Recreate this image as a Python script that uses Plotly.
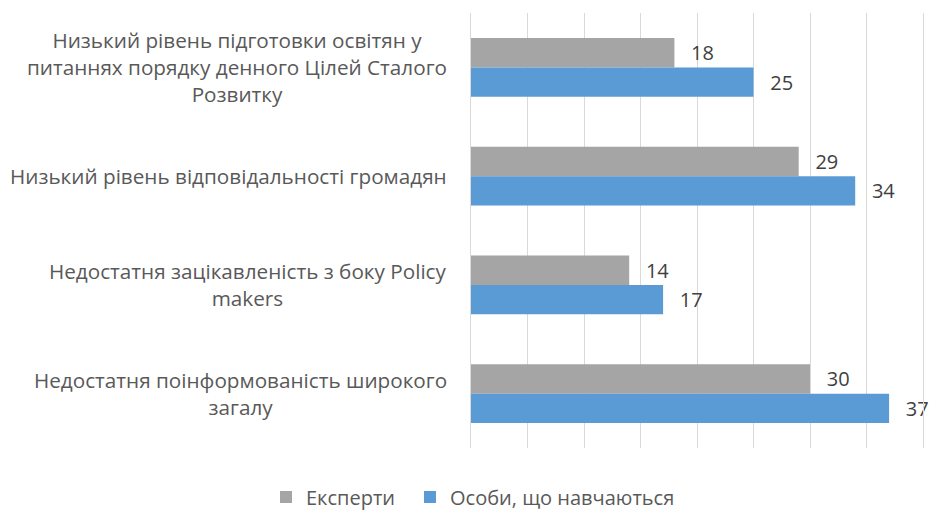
import plotly.graph_objects as go

categories = [
    "Низький рівень підготовки освітян у<br>питаннях порядку денного Цілей Сталого<br>Розвитку",
    "Низький рівень відповідальності громадян",
    "Недостатня зацікавленість з боку Policy<br>makers",
    "Недостатня поінформованість широкого<br>загалу",
]
cat_ids = ["c1", "c2", "c3", "c4"]
experts = [18, 29, 14, 30]
students = [25, 34, 17, 37]
series_names = ["Експерти", "Особи, що навчаються"]

FONT = "Open Sans"
W, H = 931, 510
ML, MR, MT, MB = 471, 8, 13, 62
PW = W - ML - MR
PH = H - MT - MB

def px_x(page_x):
    return (page_x - ML) / PW

fig = go.Figure()
for vals, name, color, leg in [(experts, series_names[0], "#a5a5a5", "legend"),
                               (students, series_names[1], "#5b9bd5", "legend2")]:
    fig.add_trace(go.Bar(
        y=cat_ids, x=vals, orientation="h", name=name, legend=leg,
        marker=dict(color=color, line=dict(width=0)),
        text=vals, texttemplate="  \u2009%{x}", textposition="outside",
        textfont=dict(family=FONT, size=20, color="#404040"),
        cliponaxis=False,
    ))

annotations = []
for cid, lab in zip(cat_ids, categories):
    annotations.append(dict(
        x=px_x(449), xref="paper", y=cid, yref="y", text=lab, showarrow=False,
        xanchor="right", yanchor="middle", align="center",
        font=dict(family=FONT, size=20.7, color="#595959"),
    ))

leg_font = dict(family=FONT, size=20, color="#595959")
fig.update_layout(
    width=W, height=H,
    margin=dict(l=ML, r=MR, t=MT, b=MB, autoexpand=False),
    paper_bgcolor="white", plot_bgcolor="white",
    barmode="group", bargap=0.46, bargroupgap=0,
    showlegend=True,
    legend=dict(orientation="h", xref="container", x=266 / W, xanchor="left",
                yref="container", y=1 - 497 / H, yanchor="middle",
                font=leg_font, itemwidth=30),
    legend2=dict(orientation="h", xref="container", x=410 / W, xanchor="left",
                 yref="container", y=1 - 497 / H, yanchor="middle",
                 font=leg_font, itemwidth=30),
    annotations=annotations,
    font=dict(family=FONT),
)
fig.update_xaxes(range=[0, 40], dtick=5, showgrid=True, gridcolor="#d9d9d9", gridwidth=1,
                 showticklabels=False, zeroline=False, ticks="")
fig.update_yaxes(autorange="reversed", showticklabels=False, ticks="",
                 showline=True, linecolor="#d9d9d9", mirror=True, showgrid=False)

fig.write_html("out.html", config={"displayModeBar": False},
               post_script="document.body.style.margin='0';document.body.style.overflow='hidden';")
